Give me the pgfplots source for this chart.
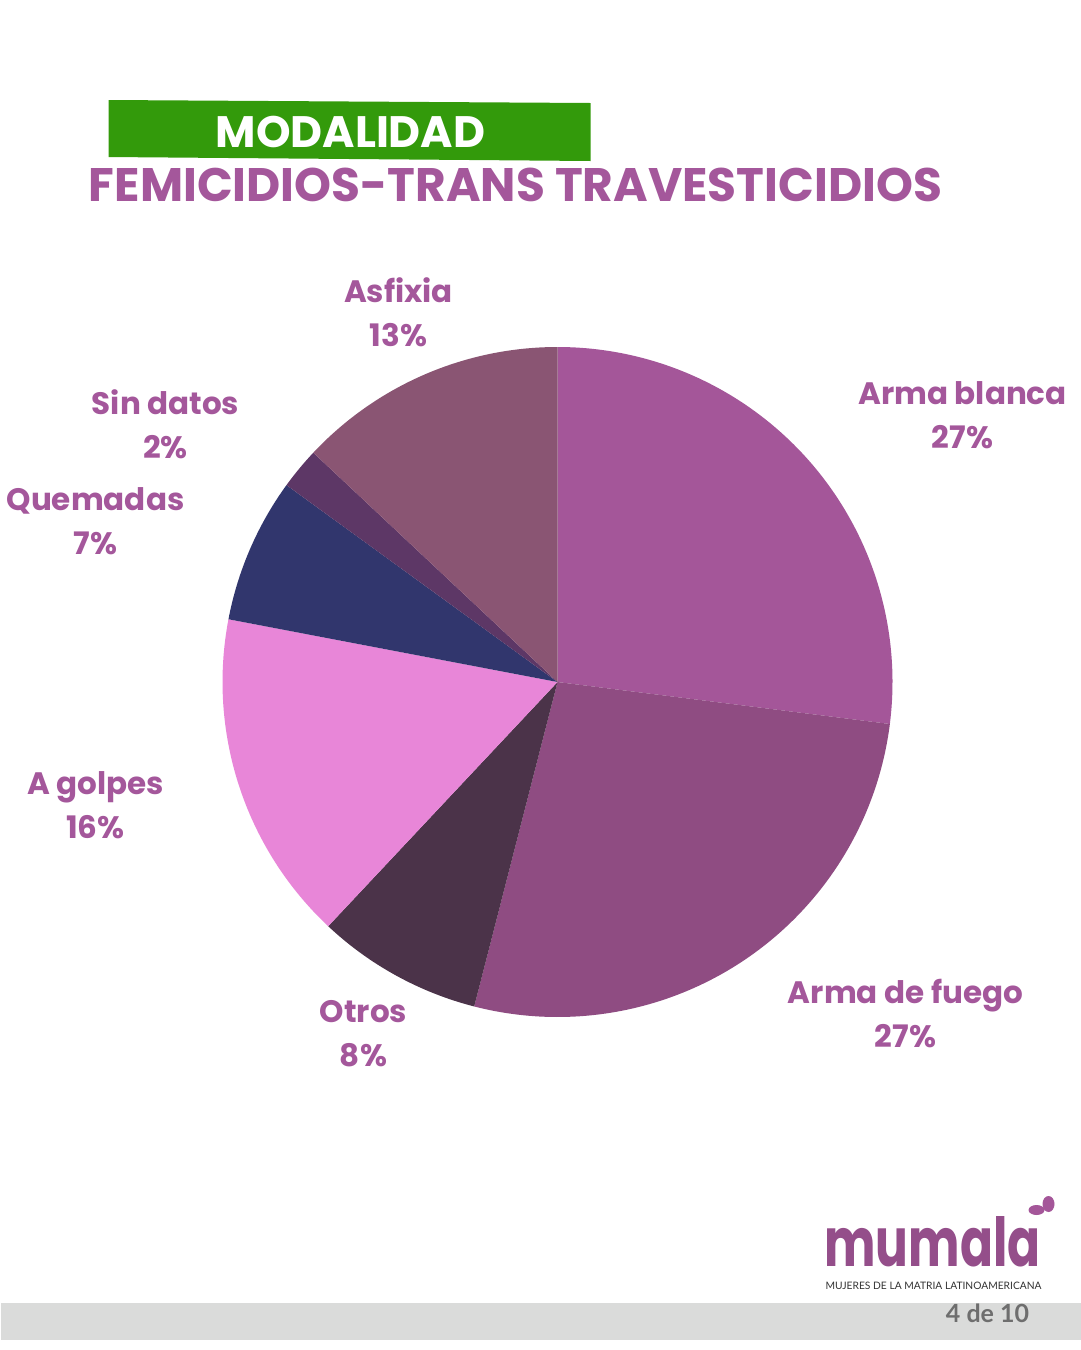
\documentclass[border=0pt]{standalone}
\usepackage{pgfplots}
\pgfplotsset{compat=1.18}
\usepackage{pgfplotstable}
\usepackage{fontspec}
\setmainfont{Poppins}
\newfontfamily\lato{Lato}

\definecolor{cTxt}{HTML}{A4579B}
\definecolor{cGreen}{HTML}{339A0B}
\definecolor{cAB}{HTML}{A45699}
\definecolor{cAF}{HTML}{8F4C82}
\definecolor{cOT}{HTML}{4B3349}
\definecolor{cAG}{HTML}{E886D8}
\definecolor{cQU}{HTML}{31366D}
\definecolor{cSD}{HTML}{5D3766}
\definecolor{cAS}{HTML}{8A5573}
\definecolor{cBar}{HTML}{DADBDA}
\definecolor{cPage}{HTML}{6E6E6E}

% slices: percentage, start and end angle (degrees), colour, pie centre, label position
\pgfplotstableread[col sep=comma]{
name,pct,a0,a1,col,cx,cy,lx,ly
Arma blanca,27,-7.2,90,cAB,557,682,962,415
Arma de fuego,27,-104.4,-7.2,cAF,557,682,905,1014
Otros,8,-133.2,-104.4,cOT,557,682,363,1034
A golpes,16,-190.8,-133.2,cAG,557,682,95,805
Quemadas,7,-216,-190.8,cQU,557,682,95,521
Sin datos,2,-223.2,-216,cSD,557,682,165,424
Asfixia,13,-270,-223.2,cAS,557,682,398,312
}\piedata

\newcommand\pieR{167.5pt}
\pgfdeclareplotmark{sector}{%
  \pgfsetfillcolor{\pgfplotspointmeta}%
  \pgfpathmoveto{\pgfpointorigin}%
  \pgfpathlineto{\pgfpointpolar{\aS}{\pieR}}%
  \pgfpatharc{\aS}{\aE}{\pieR}%
  \pgfpathclose
  \pgfusepathqfill}

\begin{document}
\begin{tikzpicture}
\begin{axis}[
  scale only axis, width=540pt, height=675pt,
  xmin=0, xmax=1080, ymin=0, ymax=1350, y dir=reverse,
  hide axis, clip=false]
\fill[white] (axis cs:0,0) rectangle (axis cs:1080,1350);
% pie
\addplot[scatter, only marks, mark=sector, point meta=explicit symbolic,
  visualization depends on={\thisrow{a0}\as\aS},
  visualization depends on={\thisrow{a1}\as\aE},
  scatter/@pre marker code/.code={},
  scatter/@post marker code/.code={}]
  table[x=cx, y=cy, meta=col] {\piedata};
% labels
\addplot[draw=none, mark=none, point meta=explicit symbolic,
  visualization depends on={\thisrow{pct}\as\pc},
  nodes near coords={\pgfplotspointmeta\\\pgfmathprintnumber[assume math mode=true, fixed, precision=0]{\pc}\%},
  every node near coord/.append style={anchor=center, align=center,
    text=cTxt, font=\fontsize{15.5}{22}\selectfont\bfseries}]
  table[x=lx, y=ly, meta=name] {\piedata};
% header
\fill[cGreen] (axis cs:108,100) -- (axis cs:590,103) -- (axis cs:590,161) -- (axis cs:108,157) -- cycle;
\node[text=white, font=\fontsize{22}{22}\selectfont\bfseries] at (axis cs:350,132) {MODALIDAD};
\node[text=cTxt, font=\fontsize{23.5}{24}\selectfont\bfseries] at (axis cs:515,185) {FEMICIDIOS-TRANS TRAVESTICIDIOS};
% footer
\fill[cBar] (axis cs:0,1303) rectangle (axis cs:1080,1340);
\node[text=cPage, font=\lato\fontsize{12.5}{13}\selectfont\bfseries] at (axis cs:987,1313) {4 de 10};
\node[text=cAB!90!black, inner sep=0pt] at (axis cs:932,1242) {\resizebox{108pt}{25pt}{\bfseries mumala}};
\fill[cAB] (axis cs:1036,1210) ellipse[x radius=4pt, y radius=2.5pt];
\fill[cAB] (axis cs:1048,1204) ellipse[x radius=3pt, y radius=4pt];
\node[text=black!80, inner sep=0pt] at (axis cs:933,1286) {\resizebox{108pt}{!}{\lato MUJERES DE LA MATRIA LATINOAMERICANA}};
\end{axis}
\end{tikzpicture}
\end{document}
